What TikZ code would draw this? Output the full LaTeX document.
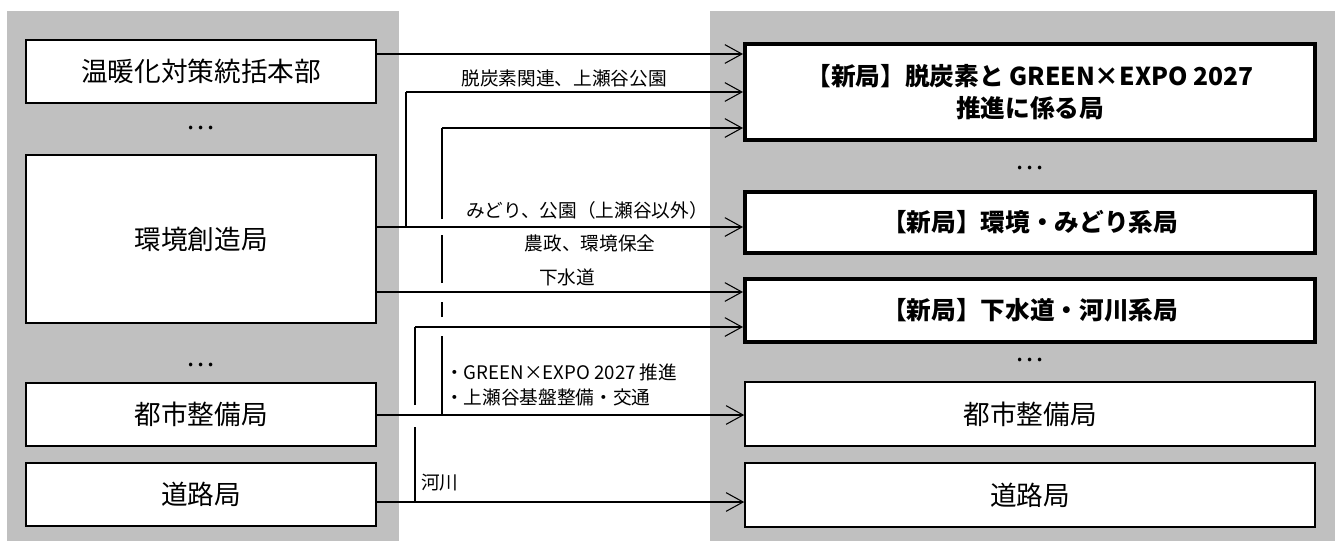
\documentclass[tikz,border=0pt]{standalone}
\usepackage{fontspec}
\setmainfont{Noto Sans CJK JP}
\usetikzlibrary{arrows.meta}
\definecolor{panelgray}{RGB}{192,192,192}

\begin{document}
\begin{tikzpicture}[x=0.75pt,y=-0.75pt,
    oldbox/.style={draw,line width=1.2pt,fill=white,minimum width=262.5pt,font=\fontsize{20}{24}\selectfont},
    newbox/.style={draw,line width=3pt,fill=white,minimum width=427.5pt,align=center,font=\fontsize{18.5}{24}\selectfont\bfseries},
    keepbox/.style={draw,line width=1.2pt,fill=white,minimum width=427.5pt,font=\fontsize{20}{24}\selectfont},
    flow/.style={line width=0.8pt,-{Straight Barb[length=12.75pt,width=14pt,line width=0.8pt]}},
    wire/.style={line width=1.1pt},
    lbl/.style={font=\fontsize{14}{18.75}\selectfont,inner sep=0pt},
    dots/.style={font=\fontsize{20}{24}\selectfont,inner sep=0pt}]
        \useasboundingbox (0,0) rectangle (1344,542);
        \fill[panelgray] (7,11) rectangle (399,541);
        \fill[panelgray] (710,11) rectangle (1335,541);
        % current bureaus
        \node[oldbox,minimum height=47.25pt] (hq) at (201,71.5){温暖化対策統括本部};
        \node[dots] (dotsL1) at (201,128){…};
        \node[oldbox,minimum height=126pt] (env) at (201,239){環境創造局};
        \node[dots] (dotsL2) at (201,365){…};
        \node[oldbox,minimum height=47.25pt] (toshi) at (201,414.5){都市整備局};
        \node[oldbox,minimum height=47.25pt] (road) at (201,494.5){道路局};
        % reorganised bureaus
        \node[newbox,minimum height=72pt] (decarb) at (1030,92){【新局】脱炭素と GREEN×EXPO 2027\\推進に係る局};
        \node[dots] (dotsR1) at (1030,168){…};
        \node[newbox,minimum height=45.75pt] (green) at (1030,222.5){【新局】環境・みどり系局};
        \node[newbox,minimum height=47.25pt] (sewer) at (1030,310.5){【新局】下水道・河川系局};
        \node[dots] (dotsR2) at (1030,360){…};
        \node[keepbox,minimum height=48pt] (toshiN) at (1030,414){都市整備局};
        \node[keepbox,minimum height=48pt] (roadN) at (1030,495){道路局};
        % junctions on the horizontal lines
        \coordinate (decarbJ) at (406,227);
        \coordinate (expoJ) at (442,415);
        \coordinate (riverJ) at (415,502);
        % straight transfers
        \draw[flow] (hq.east |- 0,54) -- (decarb.west |- 0,54);
        \draw[flow] (env.east |- 0,227) -- (green.west |- 0,227);
        \draw[flow] (env.east |- 0,292) -- (sewer.west |- 0,292);
        \draw[flow] (toshi.east |- 0,415) -- (toshiN.west |- 0,415);
        \draw[flow] (road.east |- 0,502) -- (roadN.west |- 0,502);
        % branches (broken where they pass other lines)
        \draw[wire] (decarbJ) -- (406,92);
        \draw[flow] (406,92) -- (decarb.west |- 0,92);
        \draw[wire] (expoJ) -- (442,336) (442,317) -- (442,302) (442,283) -- (442,235) (442,219) -- (442,128);
        \draw[flow] (442,128) -- (decarb.west |- 0,128);
        \draw[wire] (riverJ) -- (415,427) (415,405) -- (415,327);
        \draw[flow] (415,327) -- (sewer.west |- 0,327);
        % labels
        \node[lbl] (lbDecarb) at (564,78){脱炭素関連、上瀬谷公園};
        \node[lbl] (lbGreen) at (587,210){みどり、公園（上瀬谷以外）};
        \node[lbl] (lbFarm) at (590,243){農政、環境保全};
        \node[lbl] (lbSewer) at (567,277){下水道};
        \node[lbl,anchor=west,align=left] (lbExpo) at (445,384.5){・GREEN×EXPO 2027 推進\\・上瀬谷基盤整備・交通};
        \node[lbl,anchor=west] (lbRiver) at (421,483){河川};
\end{tikzpicture}
\end{document}
